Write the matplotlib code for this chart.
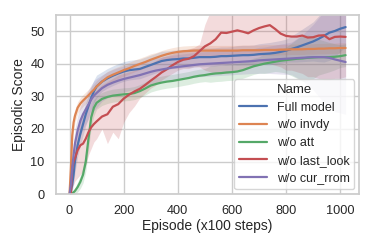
import numpy as np
import matplotlib
matplotlib.use('Agg')
import matplotlib.pyplot as plt
import seaborn as sns

# episode positions (x100 steps)
episodes = [0, 5, 10, 15, 20, 30, 40, 50, 60, 70, 80, 90, 100,
            120, 140, 160, 180, 200, 220, 240, 260, 280, 300, 320, 340, 360,
            380, 400, 420, 440, 460, 480, 500, 520, 540, 560, 580, 600, 620,
            640, 660, 680, 700, 720, 740, 760, 780, 800, 820, 840, 860, 880,
            900, 920, 940, 960, 980, 1000, 1020]

names = ['Full model', 'w/o invdy', 'w/o att', 'w/o last_look', 'w/o cur_rrom']

full_model = [0, 1, 3, 6, 10, 15, 18.5, 21.5, 24.5, 27, 29.5, 31.5, 33,
              34.5, 35.5, 36.3, 37, 37.6, 38, 38.2, 38.4, 39, 39.6, 40.2,
              40.8, 41.1, 41.3, 41.4, 41.6, 41.6, 41.8, 42, 42, 42, 42.1,
              42.3, 42.3, 42.4, 42.5, 42.6, 42.6, 42.7, 42.9, 43, 43.1, 43.3,
              43.6, 44, 44.5, 45, 45.6, 46.2, 46.8, 47.6, 48.5, 49.5, 50,
              50.7, 51.2]
wo_invdy = [0, 8, 18, 22, 24, 26.5, 27.8, 28.7, 29.5, 30.3, 31.2, 32, 33,
            34.5, 35.8, 36.6, 37.3, 38, 38.6, 39.3, 39.9, 40.5, 41.2, 41.8,
            42.4, 42.9, 43.3, 43.6, 43.8, 43.9, 44, 44, 44, 44, 44, 44, 44,
            44, 44, 44.1, 44.1, 44.1, 44.1, 44.2, 44.2, 44.2, 44.3, 44.3,
            44.4, 44.4, 44.4, 44.5, 44.5, 44.6, 44.6, 44.7, 44.7, 44.8, 44.8]
wo_att = [0, 0, 0.3, 0.6, 1, 2.2, 3.8, 6, 10, 17, 23.5, 26.5, 28,
          29.2, 29.8, 30.2, 30.4, 30.6, 30.7, 31, 31.6, 32.4, 33.3, 33.8,
          34.2, 34.5, 34.7, 35, 35.3, 35.6, 36, 36.3, 36.5, 36.8, 37, 37.1,
          37.3, 37.4, 37.6, 38, 38.6, 39.2, 39.6, 40, 40.3, 40.6, 40.9, 41.1,
          41.3, 41.5, 41.6, 41.8, 41.9, 42, 42, 42, 42.1, 42.3, 42.6]
wo_last_look = [0, 0, 8, 10, 11, 13.5, 15, 15.5, 17, 19, 20.5, 21.5, 22.3,
                23.8, 24.5, 26.8, 27.6, 29.3, 30.5, 31.5, 32.3, 33.5, 34.8,
                36, 37.3, 38.3, 39.5, 40.5, 41.2, 41.5, 42.3, 43.8, 45.3,
                46.2, 47.5, 49.5, 49.4, 49.8, 50.2, 49.8, 49.3, 50.2, 50.9,
                51.4, 51.8, 50.6, 49.2, 48.5, 48.3, 48.3, 48.6, 48, 48.1,
                48.6, 48.7, 47.5, 48.2, 48.3, 48.2]
wo_cur_rrom = [0, 3, 8, 12, 15.5, 19.5, 22.5, 24.5, 26, 27.5, 29, 30.2, 31,
               32.5, 33.5, 34.2, 34.8, 35.3, 35.7, 36.1, 36.5, 37, 37.5, 37.9,
               38.2, 38.5, 38.8, 39, 39.2, 39.4, 39.6, 39.8, 39.9, 40, 40.1,
               40.2, 40.3, 40.4, 40.5, 40.6, 40.7, 40.8, 41, 41.1, 41.2, 41.3,
               41.4, 41.5, 41.6, 41.7, 41.8, 41.9, 42, 42, 42, 41.8, 41.3,
               40.9, 40.5]

# half-width of the shaded bands
full_spread = [0, 1, 2, 3, 3.5, 3.5, 3.5, 3.5, 3.5, 3.5, 3.5, 3.5, 3.5,
               3, 3, 3, 3, 3, 3, 3, 3, 3, 3, 3, 3, 2.8, 2.8, 2.8, 2.8, 2.8,
               2.8, 2.8, 2.8, 2.8, 2.8, 2.8, 2.8, 2.8, 3, 3, 3, 3, 3.2, 3.3,
               3.4, 3.5, 3.5, 3.5, 4, 4.5, 5, 5.5, 6, 7, 8, 8.5, 8, 7, 6]
invdy_spread = [0, 3, 3, 2.5, 2, 1.8, 1.8, 1.8, 1.8, 1.8, 1.8, 1.8, 1.8,
                1.8, 1.8, 1.8, 1.8, 1.8, 1.8, 1.8, 1.8, 1.8, 1.8, 1.6, 1.6,
                1.6, 1.6, 1.6, 1.6, 1.6, 1.6, 1.6, 1.6, 1.6, 1.6, 1.6, 1.6,
                1.6, 1.6, 1.6, 1.6, 1.6, 1.6, 1.6, 1.6, 1.6, 1.6, 1.6, 1.6,
                1.6, 1.6, 1.6, 1.6, 1.6, 1.6, 1.6, 1.6, 1.6, 1.6]
att_spread = [0, 0.3, 0.5, 0.8, 1, 1.5, 2, 2.5, 3, 3.5, 3, 2.5, 2,
              2, 2, 2, 2, 2, 2, 2, 2, 2, 2, 2, 2, 2, 2, 2, 2, 2, 2, 2, 2,
              2.5, 2.5, 2.5, 2.5, 2.5, 2.5, 2.5, 2.5, 2.5, 2.5, 3, 3, 3, 3.5,
              4, 5, 6, 7, 7, 6.5, 5.5, 5, 4.5, 4, 3.5, 3.5]
cur_spread = [0, 1.5, 3, 4, 4.5, 4.5, 4.5, 4.5, 4.5, 4.5, 4.5, 4.5, 4.5,
              4, 4, 4, 4, 4, 4, 4, 4, 4, 4, 3.8, 3.8, 3.8, 3.8, 3.8, 3.8,
              3.8, 3.8, 3.8, 3.8, 3.8, 3.8, 3.8, 3.8, 3.8, 3.8, 3.8, 3.8,
              3.8, 4, 4, 4.2, 4.4, 4.6, 4.8, 5, 6, 7, 8.5, 10, 12, 14, 15,
              16, 16, 16]
last_look_lo = [0, 0, 2, 3, 4, 5, 6, 7, 9, 12, 14, 16, 17,
                20, 15.5, 19, 17, 22, 25, 27, 29.5, 31, 32.5, 33.5, 35, 36,
                37, 38, 38.5, 38.5, 39, 39, 38, 37.5, 37, 37, 37, 37.5, 38,
                38, 38.5, 39, 39.5, 40, 40, 39.5, 39, 38, 38, 37.5, 37, 36,
                36, 35.5, 35, 35, 35.5, 35.5, 36]
last_look_hi = [0, 2, 12, 15, 17, 20, 23, 25, 27, 28.5, 30, 31, 32,
                33.5, 34.5, 35.5, 36.5, 37, 37.5, 38, 38.5, 39, 40, 41, 42,
                42.5, 43, 43.5, 44, 44.5, 45, 46, 52, 56, 58, 58, 58, 58, 58,
                58, 58, 58, 58, 58, 58, 58, 58, 58, 58, 58, 58, 58, 58, 58,
                58, 58, 58, 58, 58]

sns.set_theme(style='whitegrid')
plt.rcParams['font.family'] = ['Liberation Sans', 'DejaVu Sans']

fig = plt.figure(figsize=(3.74, 2.49), dpi=100)
ax = fig.add_axes([0.149, 0.22, 0.812, 0.721])

colors = sns.color_palette('deep')
series = [full_model, wo_invdy, wo_att, wo_last_look, wo_cur_rrom]
spreads = [full_spread, invdy_spread, att_spread, None, cur_spread]

x = np.array(episodes)
for i, (name, vals) in enumerate(zip(names, series)):
    y = np.array(vals)
    if spreads[i] is None:
        lo, hi = np.array(last_look_lo), np.array(last_look_hi)
    else:
        s = np.array(spreads[i])
        lo, hi = y - s, y + s
    ax.fill_between(x, lo, hi, color=colors[i], alpha=0.2, lw=0)
    ax.plot(x, y, color=colors[i], lw=1.6, label=name)

ax.set_xlim(-51, 1071)
ax.set_ylim(0, 55)
ax.set_xticks([0, 200, 400, 600, 800, 1000])
ax.set_yticks([0, 10, 20, 30, 40, 50])
ax.tick_params(labelsize=9.2, pad=2)
ax.set_xlabel('Episode (x100 steps)', fontsize=10, labelpad=1)
ax.set_ylabel('Episodic Score', fontsize=10, labelpad=3)

leg = ax.legend(title='Name', loc='lower right', fontsize=9,
                title_fontsize=9.5, frameon=True, borderaxespad=0.4,
                handlelength=2.2, labelspacing=0.45)

fig.savefig('out.png', dpi=100)
